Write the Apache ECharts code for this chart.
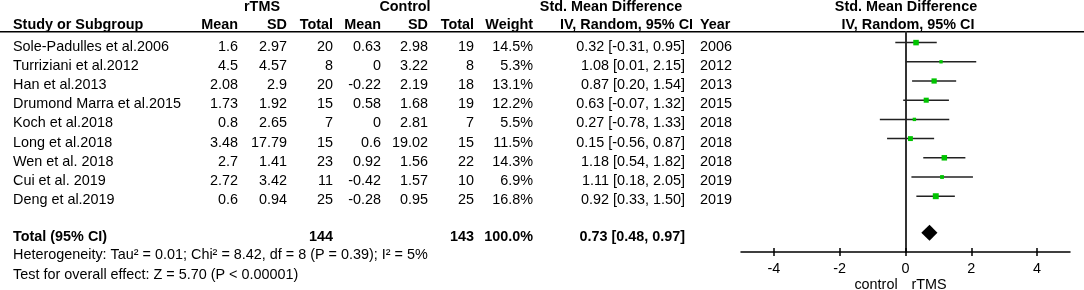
<!DOCTYPE html>
<html lang="en">
<head>
	<meta charset="UTF-8">
	<title>forest_rtms</title>
	<script type="text/javascript" src="https://cdn.jsdelivr.net/npm/echarts@6/dist/echarts.min.js"></script>
	<style>
		html, body { margin: 0; padding: 0; background: #fff; }
	</style>
</head>
<body>
<div id="forest" style="width: 1084px;height: 290px"></div>

<script type="text/javascript">
    // 研究数据
    var studies = ['Sole-Padulles et al.2006', 'Turriziani et al.2012', 'Han et al.2013', 'Drumond Marra et al.2015',
        'Koch et al.2018', 'Long et al.2018', 'Wen et al. 2018', 'Cui et al. 2019', 'Deng et al.2019'];
    var rtmsMean = [1.6, 4.5, 2.08, 1.73, 0.8, 3.48, 2.7, 2.72, 0.6];
    var rtmsSD = [2.97, 4.57, 2.9, 1.92, 2.65, 17.79, 1.41, 3.42, 0.94];
    var rtmsTotal = [20, 8, 20, 15, 7, 15, 23, 11, 25];
    var ctrlMean = [0.63, 0, -0.22, 0.58, 0, 0.6, 0.92, -0.42, -0.28];
    var ctrlSD = [2.98, 3.22, 2.19, 1.68, 2.81, 19.02, 1.56, 1.57, 0.95];
    var ctrlTotal = [19, 8, 18, 19, 7, 15, 22, 10, 25];
    var weights = [14.5, 5.3, 13.1, 12.2, 5.5, 11.5, 14.3, 6.9, 16.8];
    var smd = [0.32, 1.08, 0.87, 0.63, 0.27, 0.15, 1.18, 1.11, 0.92];
    var ciLow = [-0.31, 0.01, 0.20, -0.07, -0.78, -0.56, 0.54, 0.18, 0.33];
    var ciHigh = [0.95, 2.15, 1.54, 1.32, 1.33, 0.87, 1.82, 2.05, 1.50];
    var years = [2006, 2012, 2013, 2015, 2018, 2018, 2018, 2019, 2019];

    // 合并结果
    var totalRtms = 144;
    var totalCtrl = 143;
    var totalWeight = 100.0;
    var totalSmd = [0.73, 0.48, 0.97];
    var heterogeneity = 'Heterogeneity: Tau² = 0.01; Chi² = 8.42, df = 8 (P = 0.39); I² = 5%';
    var overallTest = 'Test for overall effect: Z = 5.70 (P < 0.00001)';

    var xTicks = [-4, -2, 0, 2, 4];
    var favours = ['control', 'rTMS'];

    var FONT = "'Liberation Sans', Arial, sans-serif";
    var FONT_SIZE = '14.4px ';
    var TOTAL_ROW = 9.9;

    var ci = function (m, lo, hi) {
        return m.toFixed(2) + ' [' + lo.toFixed(2) + ', ' + hi.toFixed(2) + ']';
    };

    // 表格单元格
    var cells = [];
    var cell = function (x, row, text, align, bold) {
        cells.push({x: x, row: row, text: String(text), align: align || 'right', bold: !!bold});
    };

    cell(262, -2.07, 'rTMS', 'center', true);
    cell(405, -2.07, 'Control', 'center', true);
    cell(611, -2.07, 'Std. Mean Difference', 'center', true);
    cell(906, -2.07, 'Std. Mean Difference', 'center', true);
    cell(13, -1.115, 'Study or Subgroup', 'left', true);
    cell(238, -1.115, 'Mean', 'right', true);
    cell(287, -1.115, 'SD', 'right', true);
    cell(333, -1.115, 'Total', 'right', true);
    cell(381, -1.115, 'Mean', 'right', true);
    cell(428, -1.115, 'SD', 'right', true);
    cell(474, -1.115, 'Total', 'right', true);
    cell(533, -1.115, 'Weight', 'right', true);
    cell(560, -1.115, 'IV, Random, 95% CI', 'left', true);
    cell(700, -1.115, 'Year', 'left', true);
    cell(908, -1.115, 'IV, Random, 95% CI', 'center', true);

    for (var i = 0; i < studies.length; i++) {
        cell(13, i, studies[i], 'left');
        cell(238, i, rtmsMean[i]);
        cell(287, i, rtmsSD[i]);
        cell(333, i, rtmsTotal[i]);
        cell(381, i, ctrlMean[i]);
        cell(428, i, ctrlSD[i]);
        cell(474, i, ctrlTotal[i]);
        cell(533, i, weights[i].toFixed(1) + '%');
        cell(685, i, ci(smd[i], ciLow[i], ciHigh[i]));
        cell(700, i, years[i], 'left');
    }

    cell(13, TOTAL_ROW, 'Total (95% CI)', 'left', true);
    cell(333, TOTAL_ROW, totalRtms, 'right', true);
    cell(474, TOTAL_ROW, totalCtrl, 'right', true);
    cell(533, TOTAL_ROW, totalWeight.toFixed(1) + '%', 'right', true);
    cell(685, TOTAL_ROW, ci(totalSmd[0], totalSmd[1], totalSmd[2]), 'right', true);
    cell(13, 10.85, heterogeneity, 'left');
    cell(13, 11.89, overallTest, 'left');
    cell(876, 12.41, favours[0], 'center');
    cell(929, 12.41, favours[1], 'center');

    var chart = echarts.init(document.getElementById('forest'), null, {renderer: 'canvas'});

    var ciData = [];
    var squareData = [];
    for (var j = 0; j < studies.length; j++) {
        ciData.push([ciLow[j], ciHigh[j], j]);
        squareData.push([smd[j], j, weights[j]]);
    }

    var option = {
        backgroundColor: '#fff',
        animation: false,
        grid: [
            {left: 0, right: 0, top: 0, bottom: 0},          // 表格
            {left: 741, width: 329, top: 32, height: 220}    // 森林图
        ],
        xAxis: [
            {gridIndex: 0, type: 'value', min: 0, max: 1084, show: false},
            {
                gridIndex: 1, type: 'value', min: -5, max: 5, position: 'bottom',
                axisLine: {onZero: false, lineStyle: {color: '#000', width: 1.5}},
                axisTick: {customValues: xTicks, length: 4, lineStyle: {color: '#000', width: 1.5}},
                axisLabel: {customValues: xTicks, margin: 10, fontSize: 14.4, color: '#000', fontFamily: FONT},
                splitLine: {show: false}
            },
            {
                gridIndex: 1, type: 'value', min: -5, max: 5, position: 'bottom',
                axisLine: {show: false, onZero: false},
                axisTick: {customValues: xTicks, inside: true, length: 4, lineStyle: {color: '#000', width: 1.5}},
                axisLabel: {show: false},
                splitLine: {show: false}
            }
        ],
        yAxis: [
            {gridIndex: 0, type: 'value', inverse: true, min: -2.432, max: 12.672, show: false},
            {
                gridIndex: 1, type: 'value', inverse: true, min: -0.552, max: 10.906,
                axisLine: {show: true, onZero: true, onZeroAxisIndex: 1, lineStyle: {color: '#333', width: 2}},
                axisTick: {show: false},
                axisLabel: {show: false},
                splitLine: {show: false}
            }
        ],
        graphic: [
            {
                type: 'line', silent: true,
                shape: {x1: 0, y1: 31.7, x2: 1084, y2: 31.7},
                style: {stroke: '#000', lineWidth: 1.5}
            }
        ],
        series: [
            {
                name: 'table',
                type: 'custom',
                xAxisIndex: 0,
                yAxisIndex: 0,
                silent: true,
                data: cells.map(function (c) { return [c.x, c.row]; }),
                renderItem: function (params, api) {
                    var c = cells[params.dataIndex];
                    var p = api.coord([api.value(0), api.value(1)]);
                    return {
                        type: 'text',
                        x: p[0],
                        y: p[1],
                        style: {
                            text: c.text,
                            fill: '#000',
                            align: c.align,
                            verticalAlign: 'middle',
                            font: (c.bold ? 'bold ' : '') + FONT_SIZE + FONT
                        }
                    };
                }
            },
            {
                name: 'ci',
                type: 'custom',
                xAxisIndex: 1,
                yAxisIndex: 1,
                silent: true,
                encode: {x: [0, 1], y: 2},
                data: ciData,
                renderItem: function (params, api) {
                    var a = api.coord([api.value(0), api.value(2)]);
                    var b = api.coord([api.value(1), api.value(2)]);
                    return {
                        type: 'line',
                        shape: {x1: a[0], y1: a[1], x2: b[0], y2: b[1]},
                        style: {stroke: '#222', lineWidth: 1.5}
                    };
                }
            },
            {
                name: 'smd',
                type: 'scatter',
                xAxisIndex: 1,
                yAxisIndex: 1,
                silent: true,
                symbol: 'rect',
                symbolSize: function (v) { return 1.45 * Math.sqrt(v[2]); },
                itemStyle: {color: '#00c400', opacity: 1},
                data: squareData
            },
            {
                name: 'total',
                type: 'custom',
                xAxisIndex: 1,
                yAxisIndex: 1,
                silent: true,
                encode: {x: [0, 1, 2], y: 3},
                data: [[totalSmd[1], totalSmd[0], totalSmd[2], TOTAL_ROW]],
                renderItem: function (params, api) {
                    var l = api.coord([api.value(0), api.value(3)]);
                    var m = api.coord([api.value(1), api.value(3)]);
                    var r = api.coord([api.value(2), api.value(3)]);
                    return {
                        type: 'polygon',
                        shape: {points: [[l[0], l[1]], [m[0], m[1] - 8], [r[0], r[1]], [m[0], m[1] + 8]]},
                        style: {fill: '#000'}
                    };
                }
            }
        ]
    };

    chart.setOption(option);
</script>
</body>
</html>
